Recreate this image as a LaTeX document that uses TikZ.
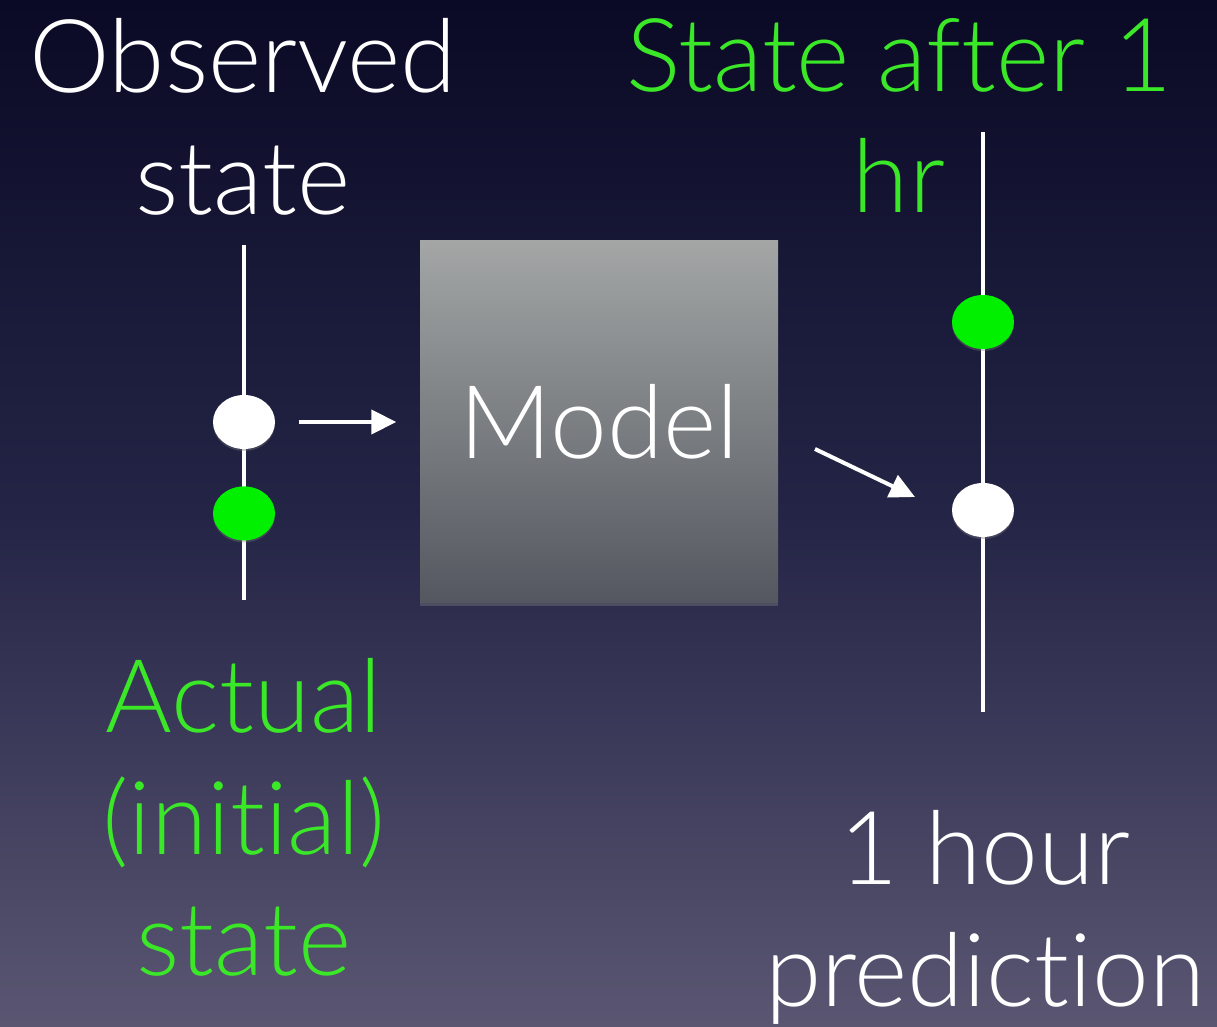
\documentclass[tikz,border=0pt]{standalone}
\usepackage{fontspec}
\setmainfont{Lato}[UprightFont=* Light, Ligatures=NoCommon]
\usetikzlibrary{arrows.meta,positioning,shapes.geometric,shadows}

\definecolor{bgtop}{RGB}{10,10,38}
\definecolor{bgmid}{RGB}{36,36,70}
\definecolor{bgbot}{RGB}{90,86,114}
\definecolor{lblgreen}{RGB}{58,232,40}
\definecolor{dotgreen}{RGB}{0,240,0}
\definecolor{boxtop}{RGB}{163,166,165}
\definecolor{boxbot}{RGB}{84,87,95}

\tikzset{
  caption/.style={align=center, inner sep=0pt, font=\fontsize{29}{34.5}\selectfont},
  knob/.style={ellipse, minimum width=0.62cm, minimum height=0.54cm, inner sep=0pt,
    drop shadow={shadow xshift=0pt, shadow yshift=-0.02cm, opacity=0.35}},
  rail/.style={white, line width=0.04cm},
  wire/.style={white, line width=0.04cm, -{Triangle[length=0.25cm,width=0.24cm]}},
}

\begin{document}
\begin{tikzpicture}
  \useasboundingbox (0,0) rectangle (12.17,10.27);
  \fill[top color=bgtop, bottom color=bgbot, middle color=bgmid] (0,0) rectangle (12.17,10.27);

  % left scale: observed vs actual
  \coordinate (ltop) at (2.44,7.82);
  \coordinate (lbot) at (2.44,4.27);
  \draw[rail] (ltop) -- (lbot);
  \node(obs) [knob, fill=white] at (2.44,6.05){};
  \node(act) [knob, fill=dotgreen, below=0.36cm of obs]{};

  % the model
  \node(model) [rectangle, minimum width=3.58cm, minimum height=3.62cm,
    top color=boxtop, bottom color=boxbot, text=white,
    drop shadow={shadow xshift=0pt, shadow yshift=-0.03cm, opacity=0.4},
    font=\fontsize{29}{34.5}\selectfont] at (5.99,6.05){Model};

  % right scale: truth vs prediction
  \coordinate (rtop) at (9.83,8.95);
  \coordinate (rbot) at (9.83,3.15);
  \draw[rail] (rtop) -- (rbot);
  \node(truth) [knob, fill=dotgreen] at (9.83,7.05){};
  \node(pred) [knob, fill=white] at (9.83,5.17){};

  \draw[wire, shorten <=0.23cm, shorten >=0.23cm] (obs) -- (model);
  \coordinate (mout) at (8.15,5.78);
  \coordinate (pin) at (9.15,5.30);
  \draw[wire] (mout) -- (pin);

  % captions
  \node(obslbl) [caption, text=white, anchor=north] at (2.43,10.09){Observed\\state};
  \node(truelbl) [caption, text=lblgreen, anchor=north] at (8.99,10.09){State after 1\\hr};
  \node(actlbl) [caption, text=lblgreen, anchor=north] at (2.44,3.69){Actual\\(initial)\\state};
  \node(predlbl) [caption, text=white, anchor=north] at (9.85,2.17){1 hour\\prediction};
\end{tikzpicture}
\end{document}
